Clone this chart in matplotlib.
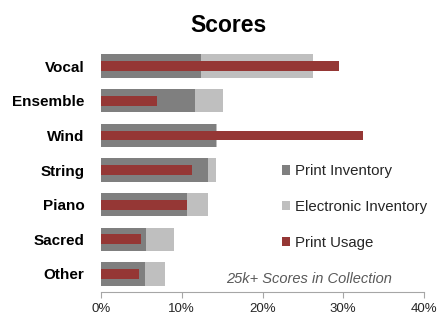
import matplotlib
matplotlib.use("Agg")
import matplotlib.pyplot as plt
import numpy as np

categories = ["Vocal", "Ensemble", "Wind", "String", "Piano", "Sacred", "Other"]
print_inventory = [12.4, 11.7, 14.3, 13.3, 10.6, 5.6, 5.4]
total_inventory = [26.2, 15.1, 14.4, 14.3, 13.2, 9.0, 7.95]
electronic_inventory = [t - p for t, p in zip(total_inventory, print_inventory)]
print_usage = [29.5, 6.9, 32.5, 11.3, 10.7, 4.9, 4.7]
xticks = [0, 10, 20, 30, 40]
xtick_labels = ["0%", "10%", "20%", "30%", "40%"]

plt.rcParams['font.family'] = ['Liberation Sans', 'DejaVu Sans']

fig = plt.figure(figsize=(4.47, 3.16), dpi=100)
ax = fig.add_axes([0.226, 0.076, 0.7225, 0.772])

y = np.arange(len(categories))
c_print = '#7f7f7f'
c_elec = '#bfbfbf'
c_usage = '#953735'

ax.barh(y, print_inventory, height=0.67, color=c_print, label='Print Inventory', zorder=2)
ax.barh(y, electronic_inventory, left=print_inventory, height=0.67, color=c_elec,
        label='Electronic Inventory', zorder=2)
ax.barh(y, print_usage, height=0.28, color=c_usage, label='Print Usage', zorder=3)

ax.set_ylim(len(categories) - 0.48, -0.52)
ax.set_xlim(0, 40)
ax.set_xticks(xticks)
ax.set_xticklabels(xtick_labels, fontsize=9.5, color='#262626')
ax.set_yticks(y)
ax.set_yticklabels(categories, fontsize=11, fontweight='bold')
ax.tick_params(axis='y', length=0, pad=12)
ax.tick_params(axis='x', length=4, color='#a6a6a6', pad=4)
for s in ['top', 'right', 'left']:
    ax.spines[s].set_visible(False)
ax.spines['bottom'].set_color('#a6a6a6')

fig.text(0.512, 0.955, "Scores", ha='center', va='top', fontsize=16.5, fontweight='bold')

ax.text(0.90, 0.055, "25k+ Scores in Collection", transform=ax.transAxes, ha='right',
        va='center', fontsize=10.5, style='italic', color='#595959')

leg = fig.legend(loc='upper left', bbox_to_anchor=(0.631, 0.48), frameon=False,
                 fontsize=10.8, handlelength=0.55, handleheight=0.55, handletextpad=0.3,
                 labelspacing=1.45, borderpad=0, borderaxespad=0)
for t in leg.get_texts():
    t.set_color('#262626')

fig.savefig("out.png", dpi=100)
